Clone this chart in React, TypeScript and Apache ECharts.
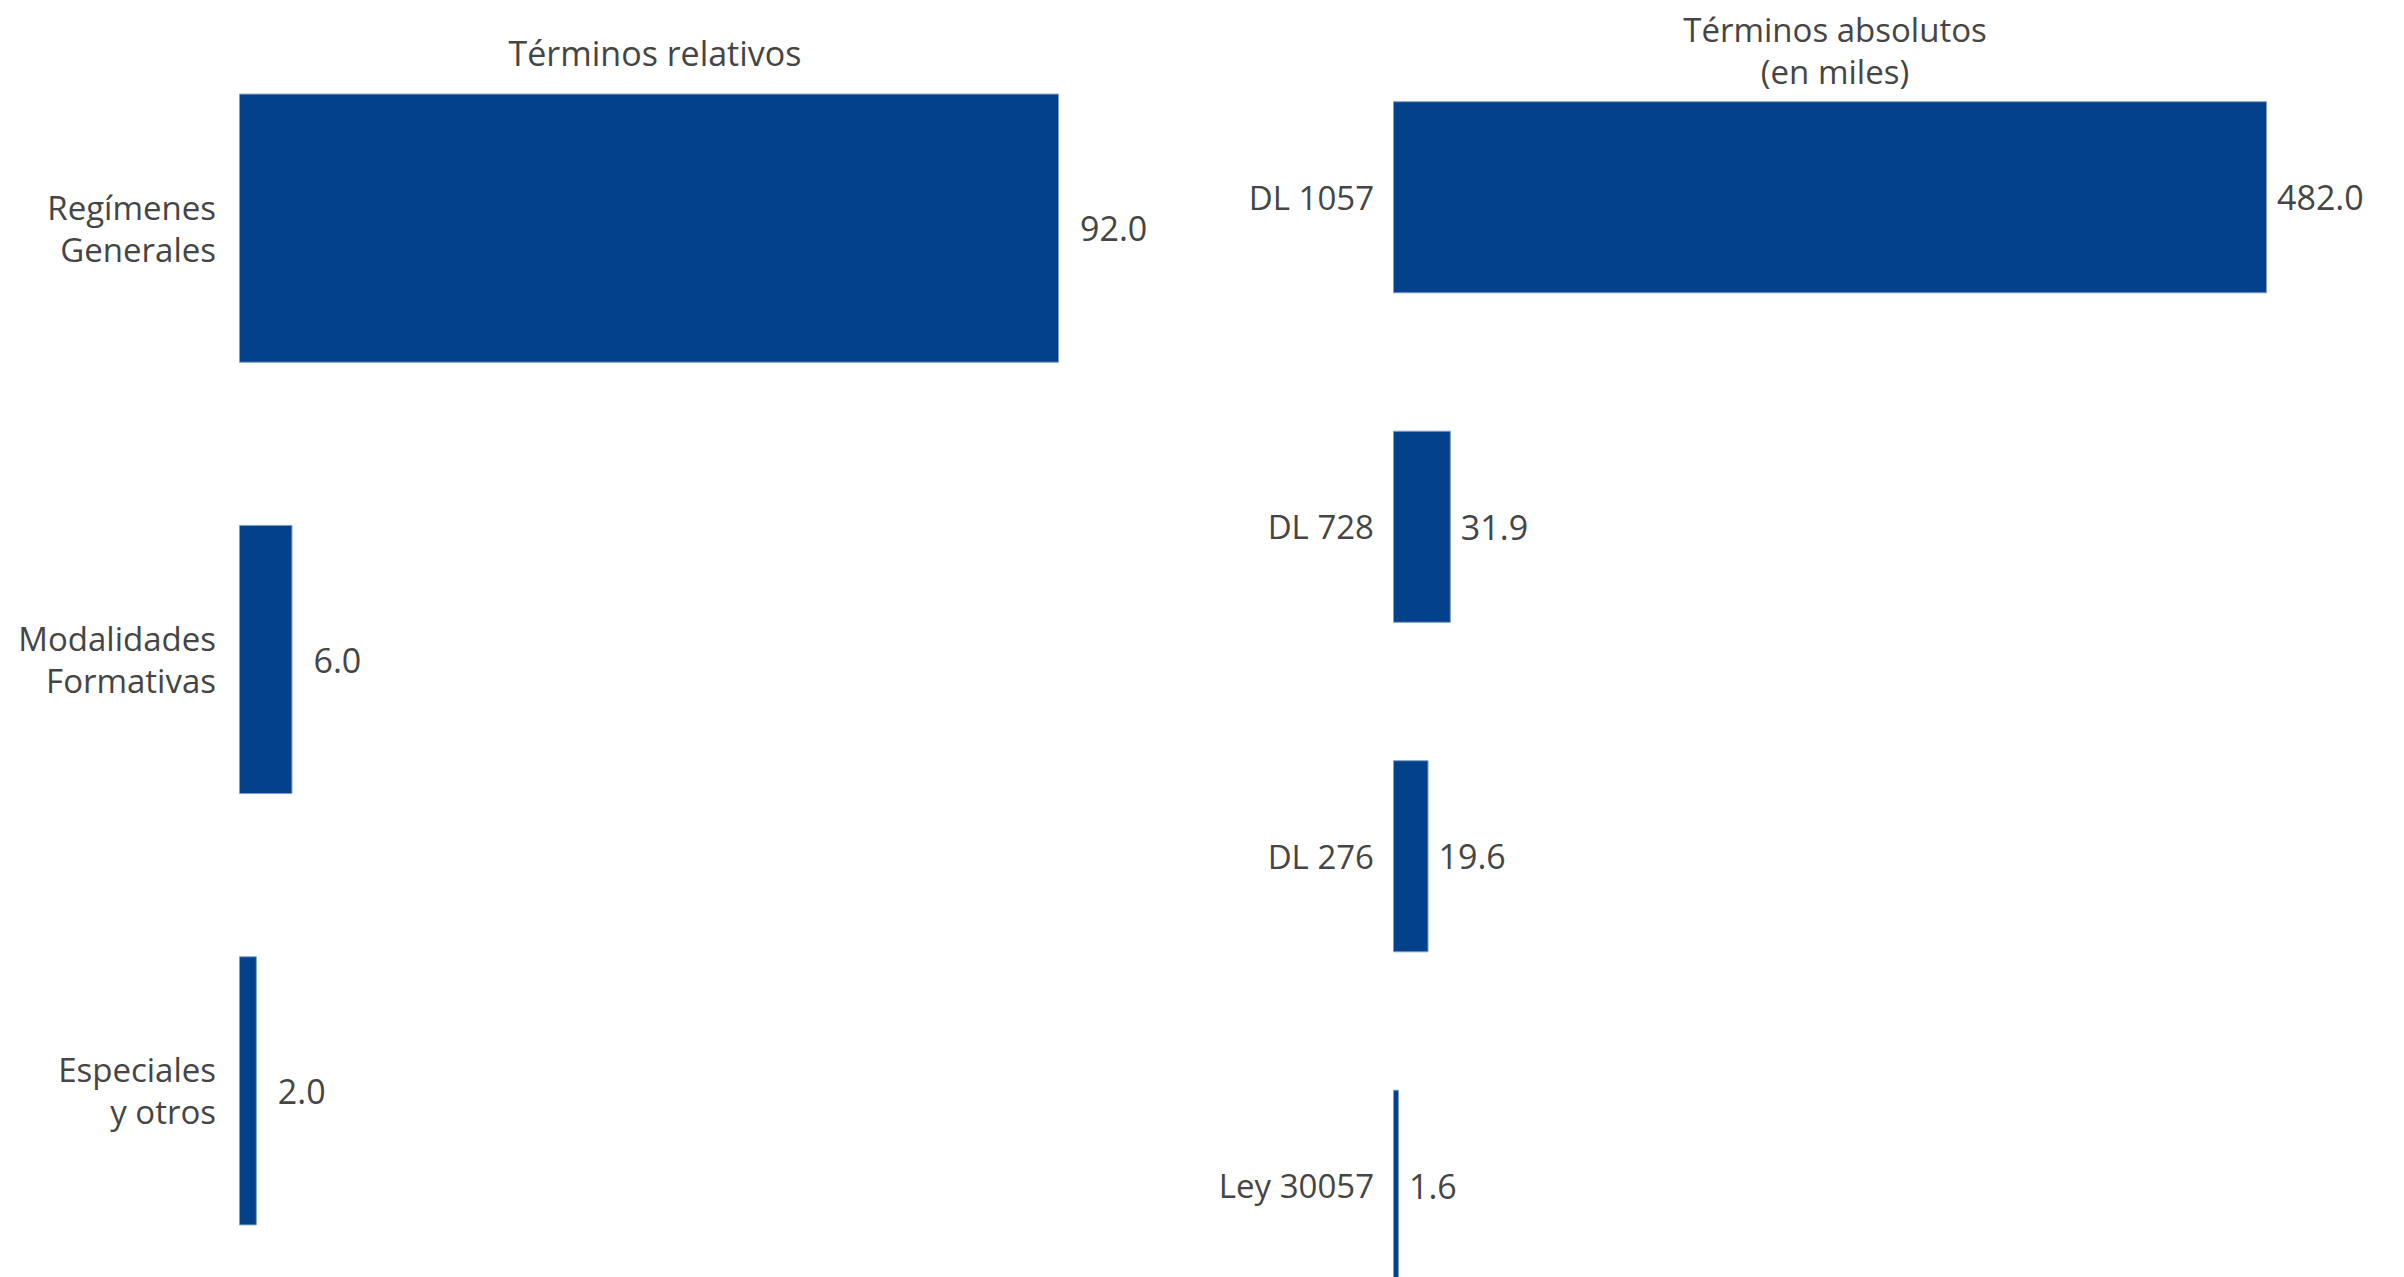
import React, { useEffect, useRef } from "react";
import * as echarts from "echarts";

const relCategories = ["Regímenes\nGenerales", "Modalidades\nFormativas", "Especiales\ny otros"];
const relValues = [92.0, 6.0, 2.0];

const absCategories = ["DL 1057", "DL 728", "DL 276", "Ley 30057"];
const absValues = [482.0, 31.9, 19.6, 1.6];

const titleRel = "Términos relativos";
const titleAbs = "Términos absolutos\n(en miles)";

const FONT = "'Open Sans', 'Noto Sans', sans-serif";
const TEXT = "#454545";
const BAR = "#03428A";

export default function App() {
  const ref = useRef<HTMLDivElement>(null);
  useEffect(() => {
    document.body.style.margin = "0";
    document.body.style.overflow = "hidden";
    document.documentElement.style.overflow = "hidden";
    const chart = echarts.init(ref.current!, null, { renderer: "svg" });
    const labelStyle = { fontFamily: FONT, fontSize: 34, color: TEXT };
    const catStyle = { fontFamily: FONT, fontSize: 33, color: TEXT };
    chart.setOption({
      animation: false,
      backgroundColor: "#ffffff",
      textStyle: { fontFamily: FONT },
      title: [
        {
          text: titleRel,
          left: 650,
          top: 26,
          textAlign: "center",
          textStyle: { ...labelStyle, fontWeight: "normal", lineHeight: 43 },
        },
        {
          text: titleAbs,
          left: 1830,
          top: 3,
          textAlign: "center",
          textStyle: { ...catStyle, fontWeight: "normal", lineHeight: 42 },
        },
      ],
      grid: [
        { left: 239, top: 12.5, width: 820, height: 1294 },
        { left: 1393, top: 32.5, width: 874, height: 1318 },
      ],
      xAxis: [
        {
          type: "value", gridIndex: 0, min: 0, max: 92,
          axisLine: { show: false }, axisTick: { show: false },
          axisLabel: { show: false }, splitLine: { show: false },
        },
        {
          type: "value", gridIndex: 1, min: 0, max: 482,
          axisLine: { show: false }, axisTick: { show: false },
          axisLabel: { show: false }, splitLine: { show: false },
        },
      ],
      yAxis: [
        {
          type: "category", gridIndex: 0, data: relCategories, inverse: true,
          axisLine: { show: false }, axisTick: { show: false },
          axisLabel: { ...catStyle, margin: 23, lineHeight: 42, align: "right" },
        },
        {
          type: "category", gridIndex: 1, data: absCategories, inverse: true,
          axisLine: { show: false }, axisTick: { show: false },
          axisLabel: { ...catStyle, margin: 19, lineHeight: 42, align: "right" },
        },
      ],
      series: [
        {
          type: "bar", xAxisIndex: 0, yAxisIndex: 0, data: relValues,
          barWidth: "62.4%",
          itemStyle: { color: BAR, borderColor: "#7f9fc8", borderWidth: 1 },
          label: {
            show: true, position: "right", distance: 21,
            formatter: (p: any) => Number(p.value).toFixed(1),
            ...labelStyle,
          },
        },
        {
          type: "bar", xAxisIndex: 1, yAxisIndex: 1, data: absValues,
          barWidth: "58.3%",
          barMinHeight: 6,
          itemStyle: { color: BAR, borderColor: "#7f9fc8", borderWidth: 1 },
          label: {
            show: true, position: "right", distance: 10,
            formatter: (p: any) => Number(p.value).toFixed(1),
            ...labelStyle,
          },
        },
      ],
    });
    return () => chart.dispose();
  }, []);
  return <div ref={ref} style={{ width: 2404, height: 1400 }} />;
}
